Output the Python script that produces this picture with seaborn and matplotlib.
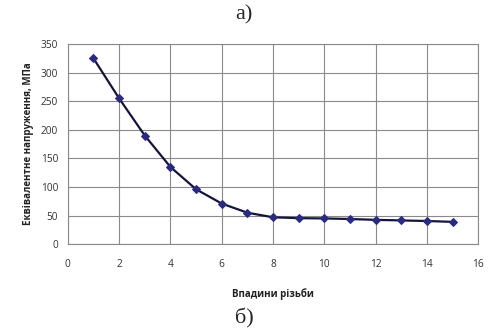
import matplotlib
matplotlib.use("Agg")
import matplotlib.pyplot as plt
import seaborn as sns
import pandas as pd

grooves = [1, 2, 3, 4, 5, 6, 7, 8, 9, 10, 11, 12, 13, 14, 15]
stress = [325, 255, 190, 135, 96, 71, 55, 47, 45.5, 45, 44, 42.5, 41.5, 40.5, 39]
x_ticks = [0, 2, 4, 6, 8, 10, 12, 14, 16]
y_ticks = [0, 50, 100, 150, 200, 250, 300, 350]

sns.set_style("white")
plt.rcParams['font.family'] = ['Open Sans', 'DejaVu Sans']

df = pd.DataFrame({"x": grooves, "y": stress})

fig = plt.figure(figsize=(4.88, 3.34), dpi=100)
ax = fig.add_axes([0.139, 0.269, 0.841, 0.599])

sns.lineplot(data=df, x="x", y="y", ax=ax, color="#15153a", linewidth=1.6,
             marker="D", markersize=4.5, markerfacecolor="#2a2a80",
             markeredgecolor="#2a2a80")

ax.set_xlim(0, 16)
ax.set_ylim(0, 350)
ax.set_xticks(x_ticks)
ax.set_yticks(y_ticks)
ax.grid(True, color="#8a8a8a", linewidth=0.8)
for s in ax.spines.values():
    s.set_color("#8a8a8a")
    s.set_linewidth(0.8)
ax.tick_params(axis="both", labelsize=7.3, length=3, color="#8a8a8a",
               pad=4, labelcolor="#333333")
ax.tick_params(axis="x", pad=8)
ax.set_xlabel("Впадини різьби", fontsize=7, fontweight="bold",
              labelpad=13, color="#222222")
ax.set_ylabel("Еквівалентне напруження, МПа", fontsize=7,
              fontweight="bold", labelpad=5, color="#222222")

fig.text(0.5, 0.955, "а)", ha="center", va="center",
         family=["Liberation Serif"], fontsize=16)
fig.text(0.5, 0.045, "б)", ha="center", va="center",
         family=["Liberation Serif"], fontsize=16)

fig.savefig("out.png", dpi=100)
